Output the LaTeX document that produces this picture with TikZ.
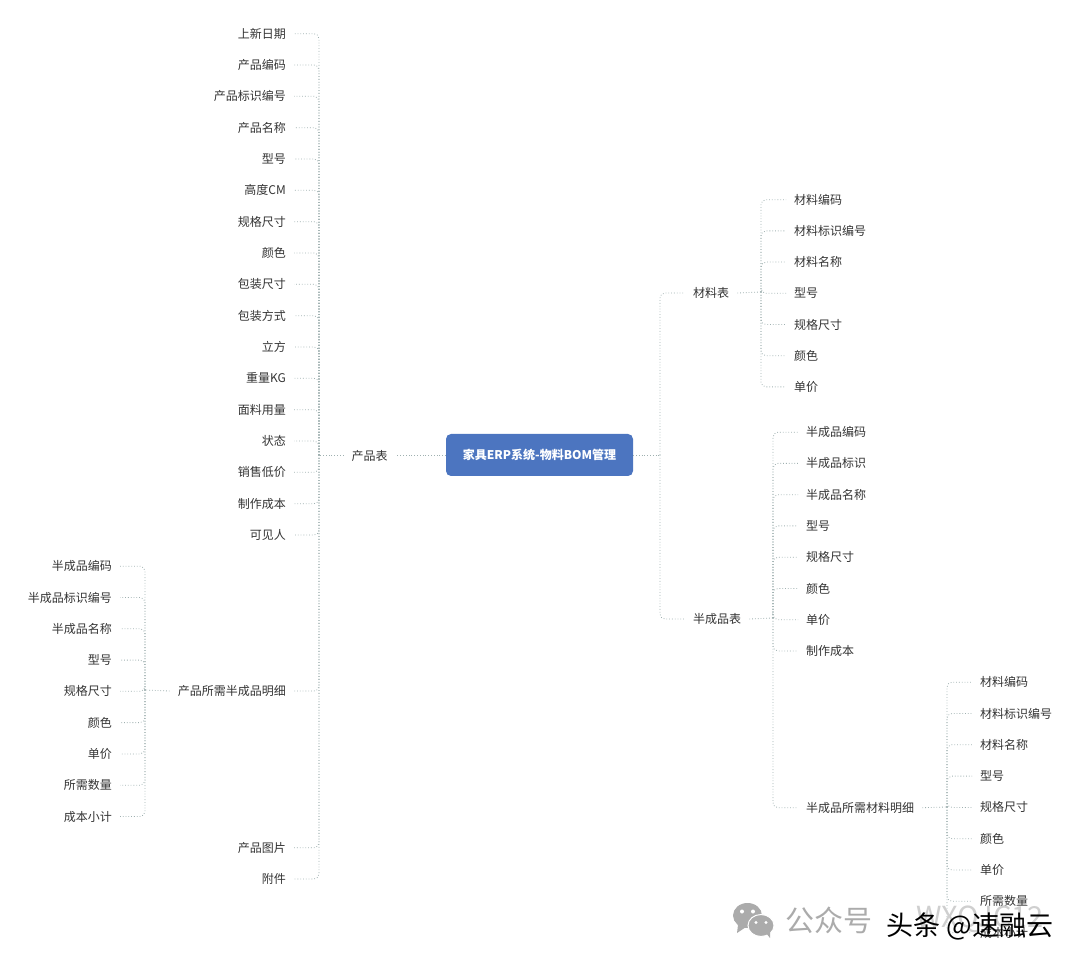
\documentclass[tikz,border=0pt]{standalone}
\usepackage{fontspec}
\setmainfont{Noto Sans CJK SC}
\usetikzlibrary{positioning, calc}
\definecolor{rootblue}{HTML}{4C75C0}
\definecolor{linkgrey}{HTML}{9FB0B0}
\definecolor{textgrey}{HTML}{333333}
\definecolor{markgrey}{HTML}{ABABAB}
\definecolor{faintgrey}{HTML}{CFCFCF}
\tikzset{
    leaf/.style={font=\fontsize{12}{14}\selectfont, text=textgrey, inner xsep=8pt, inner ysep=2pt},
    leafL/.style={leaf, anchor=east},
    leafR/.style={leaf, anchor=west},
    rootbox/.style={fill=rootblue, rounded corners=5pt, text=white, font=\fontsize{12}{14}\selectfont\bfseries, minimum width=187pt, minimum height=42pt},
    link/.style={linkgrey, line width=0.8pt, dotted, rounded corners=5pt},
    wmark/.style={font=\fontsize{29}{31}\selectfont}
}
\begin{document}
\begin{tikzpicture}[x=1pt, y=-1pt]
    \useasboundingbox (0,0) rectangle (1080,965);

    % Root and first level
    \node[rootbox] (root) at (539.5,455) {\raisebox{-0.7pt}{家具ERP系统-物料BOM管理}};
    \node[leaf] (prod) at (369.5,456) {产品表};
    \node[leafR] (mat) at (685,293) {材料表};
    \node[leafR] (semi) at (685,619) {半成品表};
    \coordinate (jointP) at (319,455);
    \coordinate (jointR) at (660,455);
    \draw[link] (root.west) -- (prod.east |- root.west);
    \draw[link] (prod.west |- jointP) -- (jointP);
    \draw[link] (root) -- (jointR);
    \draw[link] (jointR) |- (mat.west);
    \draw[link] (jointR) |- (semi.west);

    % Product table
    \foreach \name/\ypos [count=\i] in {上新日期/33.7, 产品编码/65, 产品标识编号/96.3, 产品名称/127.7, 型号/159, 高度CM/190.3, 规格尺寸/221.7, 颜色/253, 包装尺寸/284.3, 包装方式/315.7, 立方/347, 重量KG/378.3, 面料用量/409.7, 状态/441, 销售低价/472.3, 制作成本/503.7, 可见人/535, 产品所需半成品明细/691, 产品图片/847.7, 附件/879} {
        \node[leafL] (p\i) at (294,\ypos) {\name};
        \draw[link] (jointP) |- (p\i.east);
    }

    % Semi-finished items of the product
    \coordinate (jointQ) at (145,690);
    \draw[link] (p18.west) -- (jointQ);
    \foreach \name/\ypos [count=\i] in {半成品编码/566.2, 半成品标识编号/597.5, 半成品名称/628.8, 型号/660.1, 规格尺寸/691.3, 颜色/722.6, 单价/753.9, 所需数量/785.2, 成本小计/816.5} {
        \node[leafL] (q\i) at (120,\ypos) {\name};
        \draw[link] (jointQ) |- (q\i.east);
    }

    % Material table
    \coordinate (jointM) at (761,292);
    \draw[link] (mat.east) -- (jointM);
    \foreach \name/\ypos [count=\i] in {材料编码/199.7, 材料标识编号/230.9, 材料名称/262.1, 型号/293.3, 规格尺寸/324.5, 颜色/355.7, 单价/386.9} {
        \node[leafR] (m\i) at (786,\ypos) {\name};
        \draw[link] (jointM) |- (m\i.west);
    }

    % Semi-finished table
    \coordinate (jointS) at (773,618);
    \draw[link] (semi.east) -- (jointS);
    \foreach \name/\ypos [count=\i] in {半成品编码/432.2, 半成品标识/463.4, 半成品名称/494.7, 型号/525.9, 规格尺寸/557.2, 颜色/588.5, 单价/619.7, 制作成本/651, 半成品所需材料明细/807.7} {
        \node[leafR] (s\i) at (798,\ypos) {\name};
        \draw[link] (jointS) |- (s\i.west);
    }

    % Materials of the semi-finished item
    \coordinate (jointT) at (947,807);
    \draw[link] (s9.east) -- (jointT);
    \foreach \name/\ypos [count=\i] in {材料编码/682.2, 材料标识编号/713.5, 材料名称/744.7, 型号/776.1, 规格尺寸/807.4, 颜色/838.7, 单价/870, 所需数量/901.3, 成本小计/932.7} {
        \node[leafR] (t\i) at (972,\ypos) {\name};
        \draw[link] (jointT) |- (t\i.west);
    }

    % Watermarks
    \fill[markgrey] (747.5,915.5) ellipse (14.5 and 12.5);
    \fill[markgrey] (738,925) -- (737,933) -- (746,927) -- cycle;
    \fill[white] (742,911.5) circle (2) (753,911.5) circle (2);
    \filldraw[markgrey, draw=white, line width=1pt] (761,925.5) ellipse (13 and 11);
    \fill[markgrey] (766,933) -- (770,938) -- (770,930) -- cycle;
    \fill[white] (756,922.5) circle (1.7) (766,922.5) circle (1.7);
    \node[markgrey, wmark] (wm1) at (829,920) {公众号};
    \node[faintgrey, wmark] (wm2) at (980,919) {WXQJC12};
    \node[text=black, font=\fontsize{27}{29}\selectfont] (wm3) at (970,926) {头条 @速融云};
\end{tikzpicture}
\end{document}
